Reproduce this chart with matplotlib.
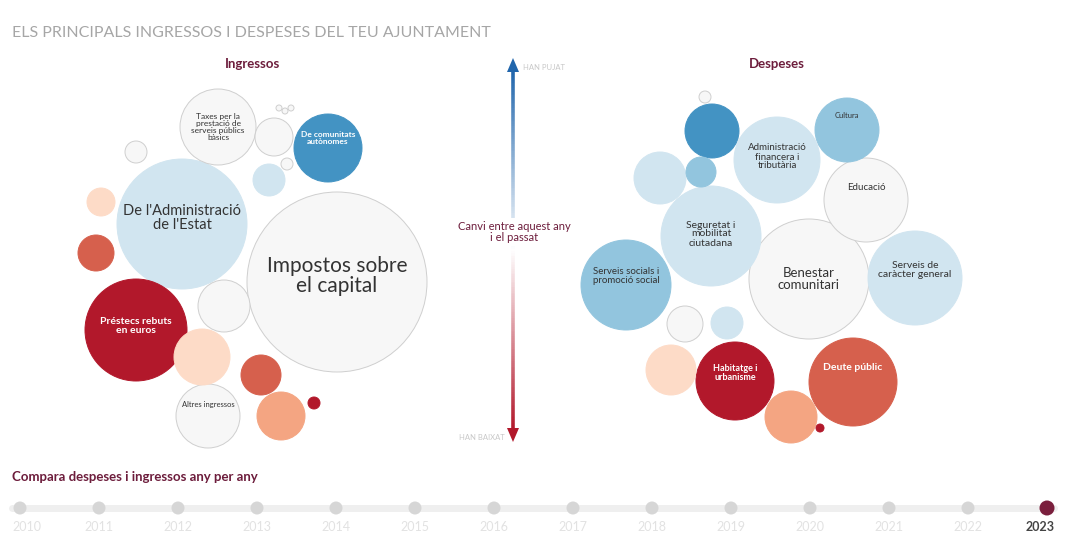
import matplotlib
matplotlib.use("Agg")
import matplotlib.pyplot as plt
from matplotlib.patches import Circle, Polygon
from matplotlib.collections import LineCollection
from matplotlib.colors import LinearSegmentedColormap
import numpy as np

plt.rcParams['font.family'] = ['Lato', 'DejaVu Sans']

# ---------------- data ----------------
title = "ELS PRINCIPALS INGRESSOS I DESPESES DEL TEU AJUNTAMENT"
years = list(range(2010, 2024))
selected_year = 2023

# Ingressos: label, amount (area units), change class (+3 pujat .. -4 baixat)
income_labels = ["Impostos sobre\nel capital", "De l'Administració\nde l'Estat",
                 "Préstecs rebuts\nen euros",
                 "Taxes per la\nprestació de\nserveis públics\nbàsics",
                 "De comunitats\nautònomes", "Altres ingressos",
                 "", "", "", "", "", "", "", "", "", "", "", "", "", ""]
income_values = [8100, 4225, 2601, 1444, 1156, 1024,
                 784, 676, 361, 256, 400, 576, 36, 196, 324, 121, 36, 9, 9, 9]
income_change = [0, 1, -4, 0, 3, 0,
                 -1, 0, 0, 1, -3, -2, -4, -1, -3, 0, 0, 0, 0, 0]

# Despeses
spend_labels = ["Benestar\ncomunitari", "Seguretat i\nmobilitat\nciutadana",
                "Serveis socials i\npromoció social", "Deute públic",
                "Administració\nfinancera i\ntributària",
                "Serveis de\ncaràcter general", "Educació", "Cultura",
                "Habitatge i\nurbanisme",
                "", "", "", "", "", "", "", "", ""]
spend_values = [3600, 2500, 2025, 1936, 1849, 2209, 1764, 1024, 1521,
                729, 676, 225, 36, 625, 324, 256, 676, 16]
spend_change = [0, 1, 2, -3, 1, 1, 0, 2, -4,
                3, 1, 2, 0, -1, 0, 1, -2, -4]

# ---------------- layout / style ----------------
W, H = 1068, 540
R_SCALE = 1.0   # radius = R_SCALE * sqrt(value)

class_colors = {3: '#4393c3', 2: '#92c5de', 1: '#d1e5f0', 0: '#f7f7f7',
                -1: '#fddbc7', -2: '#f4a582', -3: '#d6604d', -4: '#b2182b'}
dark_classes = {3, -3, -4}

income_pos = [(337, 282), (182, 224), (136, 330), (218, 127), (328, 148), (208, 416),
              (202, 357), (224, 306), (274, 137), (269, 180), (261, 375), (281, 416),
              (314, 403), (101, 202), (96, 253), (136, 152), (287, 164),
              (279, 108), (285, 111), (291, 108)]
income_label_dy = [-6, -6, -4, 0, -10, -12] + [0] * 14
income_fs = [15, 10.5, 7.5, 6, 6, 5.5] + [5] * 14
income_bold = [False, False, True, False, True, False] + [False] * 14

spend_pos = [(809, 279), (711, 236), (626, 285), (853, 382), (777, 160),
             (915, 278), (866, 200), (847, 130), (735, 381),
             (712, 131), (660, 178), (701, 172), (705, 97), (671, 370),
             (685, 324), (727, 323), (791, 417), (820, 428)]
spend_label_dy = [0, -2, -9, -15, -3, -8, -13, -14, -8] + [0] * 9
spend_fs = [9.5, 7.5, 7, 7.5, 7, 7.5, 7, 5.5, 6.5] + [5] * 9
spend_bold = [False, False, False, True, False, False, False, False, True] + [False] * 9

maroon = '#6d1d3c'

fig = plt.figure(figsize=(W / 100, H / 100), dpi=100)
ax = fig.add_axes([0, 0, 1, 1])
ax.set_xlim(0, W)
ax.set_ylim(H, 0)
ax.set_aspect('equal')
ax.axis('off')


def draw_cluster(labels, values, changes, pos, dys, fss, bolds):
    for lab, v, c, (x, y), dy, fs, b in zip(labels, values, changes, pos, dys, fss, bolds):
        r = R_SCALE * np.sqrt(v)
        fc = class_colors[c]
        ec = '#cfcfcf' if c == 0 else fc
        ax.add_patch(Circle((x, y), r, facecolor=fc, edgecolor=ec, lw=0.7, zorder=2))
        if lab:
            tc = 'white' if c in dark_classes else '#333333'
            ax.text(x, y + dy, lab, ha='center', va='center', fontsize=fs,
                    color=tc, fontweight='bold' if b else 'normal',
                    linespacing=1.0, zorder=3)


draw_cluster(income_labels, income_values, income_change, income_pos,
             income_label_dy, income_fs, income_bold)
draw_cluster(spend_labels, spend_values, spend_change, spend_pos,
             spend_label_dy, spend_fs, spend_bold)

# titles
ax.text(12, 33, title, ha='left', va='center', fontsize=11.5, color='#a6a6a6',
        fontweight='normal')
ax.text(252, 64, "Ingressos", ha='center', va='center', fontsize=9.5,
        color=maroon, fontweight='bold')
ax.text(777, 64, "Despeses", ha='center', va='center', fontsize=9.5,
        color=maroon, fontweight='bold')

# gradient arrow
cmap = LinearSegmentedColormap.from_list('arr', ['#2166ac', '#ffffff', '#b2182b'])
ax_x = 513
ys = np.linspace(70, 430, 200)
segs = [[(ax_x, ys[i]), (ax_x, ys[i + 1])] for i in range(len(ys) - 1)]
lc = LineCollection(segs, colors=cmap(np.linspace(0, 1, len(segs))), linewidths=2.6, zorder=1)
ax.add_collection(lc)
ax.add_patch(Polygon([(ax_x, 58), (ax_x - 6, 72), (ax_x + 6, 72)], closed=True,
                     facecolor='#2166ac', edgecolor='none', zorder=2))
ax.add_patch(Polygon([(ax_x, 442), (ax_x - 6, 428), (ax_x + 6, 428)], closed=True,
                     facecolor='#b2182b', edgecolor='none', zorder=2))
ax.text(523, 67, "HAN PUJAT", ha='left', va='center', fontsize=5.5, color='#c8c8c8')
ax.text(505, 437, "HAN BAIXAT", ha='right', va='center', fontsize=5.5, color='#c8c8c8')
ax.text(514, 232, "Canvi entre aquest any\ni el passat", ha='center', va='center',
        fontsize=8, color=maroon, linespacing=1.1, zorder=4,
        bbox=dict(facecolor='white', edgecolor='none', pad=1.5))

# timeline
ax.text(12, 477, "Compara despeses i ingressos any per any", ha='left', va='center',
        fontsize=9.5, color=maroon, fontweight='bold')
x0, dx = 20, 79
xs = [x0 + dx * i for i in range(len(years))]
ax.plot([12, 1054], [508, 508], color='#efefef', lw=5, solid_capstyle='round', zorder=1)
for i, (yr, x) in enumerate(zip(years, xs)):
    sel = yr == selected_year
    ax.add_patch(Circle((x, 508), 7.5 if sel else 6.5,
                        facecolor='#7a1f3d' if sel else '#d6d6d6',
                        edgecolor='none', zorder=2))
    if i == 0:
        ha, tx = 'left', x - 8
    elif i == len(years) - 1:
        ha, tx = 'right', x + 8
    else:
        ha, tx = 'center', x
    ax.text(tx, 527, str(yr), ha=ha, va='center', fontsize=9,
            color='#444444' if sel else '#e2e2e2',
            fontweight='bold' if sel else 'normal')

fig.savefig('out.png', dpi=100)
